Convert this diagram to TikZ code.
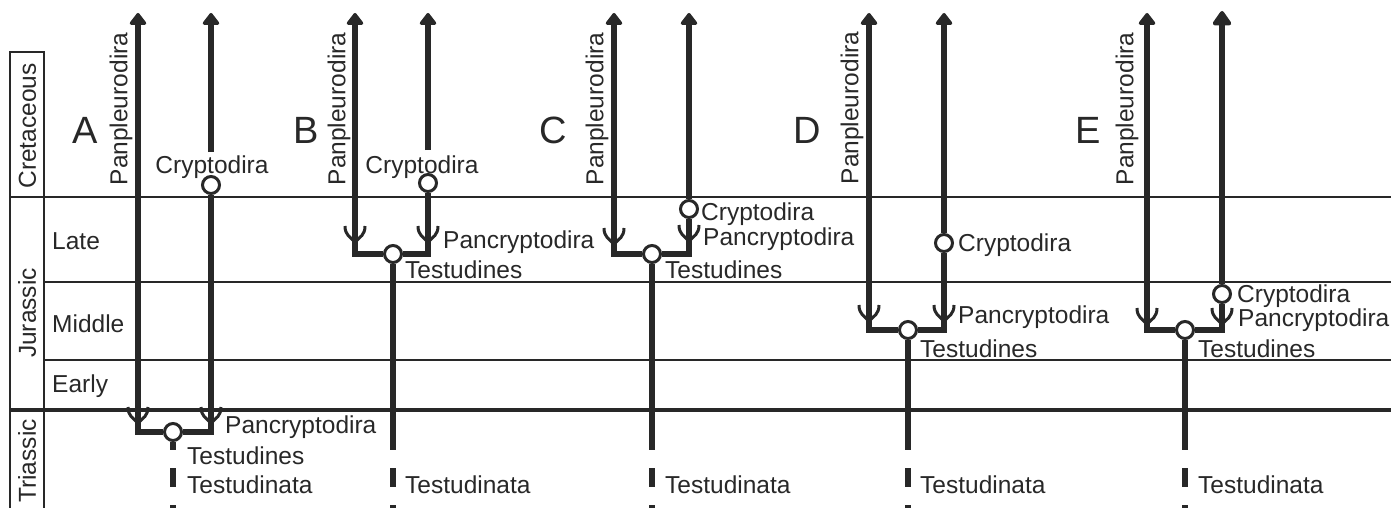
\documentclass[tikz,border=0pt]{standalone}
\usepackage{fontspec}
\setmainfont{Liberation Sans}
\usetikzlibrary{arrows.meta}
\definecolor{dk}{RGB}{40,40,40}
\begin{document}
\begin{tikzpicture}[x=1pt,y=-1pt,
  every node/.style={text=dk, inner sep=0pt, font=\fontsize{24.5}{28}\selectfont},
  lbl/.style={anchor=west, text height=17.6pt, text depth=0pt},
  clbl/.style={anchor=center, text height=17.6pt, text depth=0pt},
  vlbl/.style={rotate=90, anchor=center, text height=17.6pt, text depth=5pt},
  big/.style={font=\fontsize{38}{44}\selectfont, text height=27pt, text depth=0pt, anchor=center},
  br/.style={draw=dk, line width=6pt, line join=miter},
  up/.style={br, -{Triangle[width=19pt,length=13pt,round]}},
  dsh/.style={br, dash pattern=on 19pt off 18pt},
  nd/.style={circle, draw=dk, fill=white, line width=3pt, minimum size=17pt},
  barb/.pic={\draw[dk, line width=3pt] (-10,-10) .. controls (-10,-1) and (-5,1) .. (0,6) (10,-10) .. controls (10,-1) and (5,1) .. (0,6);},
]
\useasboundingbox (0,0) rectangle (1391,508);
% time scale
\draw[dk, line width=2.8pt] (10,508) -- (10,52) -- (44,52) -- (44,508);
\draw[dk, line width=2.2pt] (10,197) -- (1391,197);
\draw[dk, line width=3.2pt] (10,410) -- (1391,410);
\draw[dk, line width=1.4pt] (44,282) -- (1391,282);
\draw[dk, line width=1.4pt] (44,360) -- (1391,360);
\node[clbl, rotate=90] (cret) at (27,126) {Cretaceous};
\node[clbl, rotate=90] (jur) at (27,313) {Jurassic};
\node[clbl, rotate=90] (tri) at (27,461) {Triassic};
\node[lbl] (late) at (52,241) {Late};
\node[lbl] (mid) at (52,324) {Middle};
\node[lbl] (early) at (52,384) {Early};

% ---------- A ----------
\node[big] (lA) at (85,130) {A};
\coordinate (Apt) at (138,13); \coordinate (Act) at (211,13);
\coordinate (Apb) at (138,432); \coordinate (Acb) at (211,432);
\coordinate (Ace) at (211,152);
\coordinate (As) at (173,450); \coordinate (Ad) at (173,468); \coordinate (Ae) at (173,508);
\node[nd] (Ac) at (211,185) {};
\node[nd] (At) at (173,432) {};
\draw[up] (Ace) -- (Act);
\draw[br] (Ac) -- (Acb) -- (At);
\draw[up] (At) -- (Apb) -- (Apt);
\draw[br] (At) -- (As);
\draw[dsh] (Ad) -- (Ae);
\pic at (138,417) {barb};
\pic at (211,417) {barb};
\node[vlbl] (App) at (121,109) {Panpleurodira};
\node[clbl] (Acl) at (212,165) {Cryptodira};
\node[lbl] (Apc) at (225,425) {Pancryptodira};
\node[lbl] (Ats) at (187,456) {Testudines};
\node[lbl] (Atn) at (187,485) {Testudinata};

% ---------- B ----------
\node[big] (lB) at (306,130) {B};
\coordinate (Bpt) at (355,13); \coordinate (Bct) at (428,13);
\coordinate (Bpb) at (355,254); \coordinate (Bcb) at (428,254);
\coordinate (Bce) at (428,150);
\coordinate (Bs) at (393,450); \coordinate (Bd) at (393,468); \coordinate (Be) at (393,508);
\node[nd] (Bc) at (428,183) {};
\node[nd] (Bt) at (393,254) {};
\draw[up] (Bce) -- (Bct);
\draw[br] (Bc) -- (Bcb) -- (Bt);
\draw[up] (Bt) -- (Bpb) -- (Bpt);
\draw[br] (Bt) -- (Bs);
\draw[dsh] (Bd) -- (Be);
\pic at (355,236) {barb};
\pic at (428,236) {barb};
\node[vlbl] (Bpp) at (339,109) {Panpleurodira};
\node[clbl] (Bcl) at (422,165) {Cryptodira};
\node[lbl] (Bpc) at (443,240) {Pancryptodira};
\node[lbl] (Bts) at (405,270) {Testudines};
\node[lbl] (Btn) at (405,485) {Testudinata};

% ---------- C ----------
\node[big] (lC) at (553,130) {C};
\coordinate (Cpt) at (614,13); \coordinate (Cct) at (689,13);
\coordinate (Cpb) at (614,254); \coordinate (Ccb) at (689,254);
\coordinate (Cs) at (652,450); \coordinate (Cd) at (652,468); \coordinate (Ce) at (652,508);
\node[nd] (Cc) at (689,209) {};
\node[nd] (Ct) at (652,254) {};
\draw[up] (Cc) -- (Cct);
\draw[br] (Cc) -- (Ccb) -- (Ct);
\draw[up] (Ct) -- (Cpb) -- (Cpt);
\draw[br] (Ct) -- (Cs);
\draw[dsh] (Cd) -- (Ce);
\pic at (614,238) {barb};
\pic at (689,235) {barb};
\node[vlbl] (Cpp) at (597,109) {Panpleurodira};
\node[lbl] (Ccl) at (701,212) {Cryptodira};
\node[lbl] (Cpc) at (703,237) {Pancryptodira};
\node[lbl] (Cts) at (665,270) {Testudines};
\node[lbl] (Ctn) at (665,485) {Testudinata};

% ---------- D ----------
\node[big] (lD) at (807,130) {D};
\coordinate (Dpt) at (869,13); \coordinate (Dct) at (944,13);
\coordinate (Dpb) at (869,330); \coordinate (Dcb) at (944,330);
\coordinate (Ds) at (908,450); \coordinate (Dd) at (908,468); \coordinate (De) at (908,508);
\node[nd] (Dc) at (944,243) {};
\node[nd] (Dt) at (908,330) {};
\draw[up] (Dc) -- (Dct);
\draw[br] (Dc) -- (Dcb) -- (Dt);
\draw[up] (Dt) -- (Dpb) -- (Dpt);
\draw[br] (Dt) -- (Ds);
\draw[dsh] (Dd) -- (De);
\pic at (869,315) {barb};
\pic at (944,315) {barb};
\node[vlbl] (Dpp) at (852,108) {Panpleurodira};
\node[lbl] (Dcl) at (958,243) {Cryptodira};
\node[lbl] (Dpc) at (958,315) {Pancryptodira};
\node[lbl] (Dts) at (920,349) {Testudines};
\node[lbl] (Dtn) at (920,485) {Testudinata};

% ---------- E ----------
\node[big] (lE) at (1088,130) {E};
\coordinate (Ept) at (1147,13); \coordinate (Ect) at (1222,11);
\coordinate (Epb) at (1147,330); \coordinate (Ecb) at (1222,330);
\coordinate (Es) at (1185,450); \coordinate (Ed) at (1185,468); \coordinate (Ee) at (1185,508);
\node[nd] (Ec) at (1222,294) {};
\node[nd] (Et) at (1185,330) {};
\draw[br, -{Triangle[width=21pt,length=16pt,round]}] (Ec) -- (Ect);
\draw[br] (Ec) -- (Ecb) -- (Et);
\draw[up] (Et) -- (Epb) -- (Ept);
\draw[br] (Et) -- (Es);
\draw[dsh] (Ed) -- (Ee);
\pic at (1147,318) {barb};
\pic at (1222,318) {barb};
\node[vlbl] (Epp) at (1127,109) {Panpleurodira};
\node[lbl] (Ecl) at (1237,294) {Cryptodira};
\node[lbl] (Epc) at (1238,318) {Pancryptodira};
\node[lbl] (Ets) at (1198,349) {Testudines};
\node[lbl] (Etn) at (1198,485) {Testudinata};
\end{tikzpicture}
\end{document}
